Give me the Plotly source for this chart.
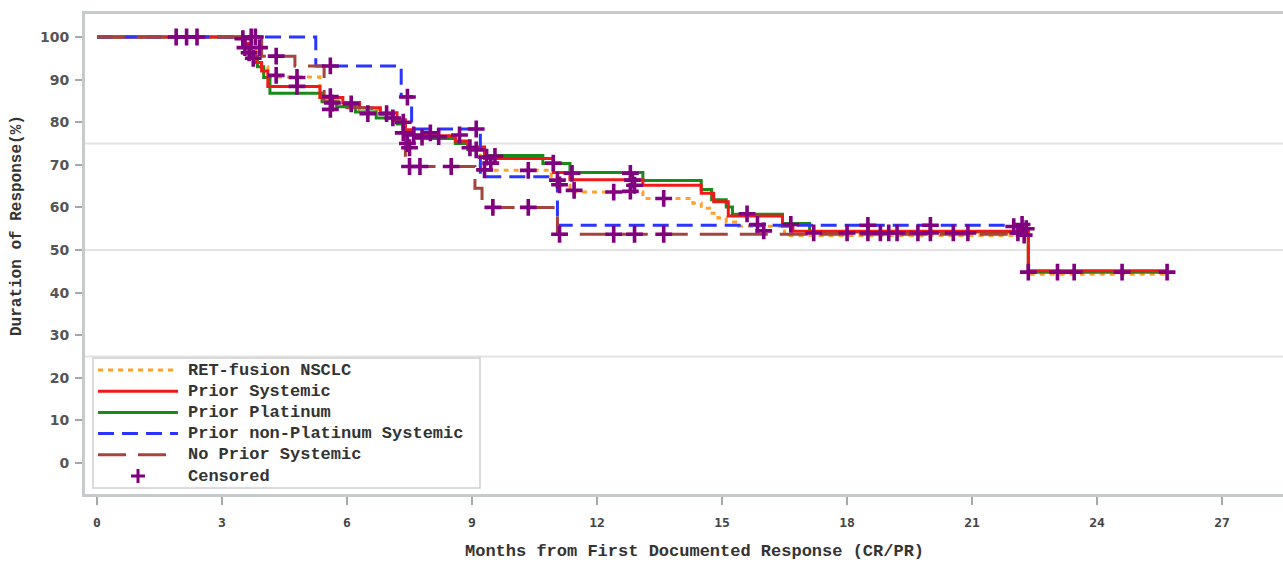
import plotly.graph_objects as go

# ---------------- data ----------------
ret_t = [0, 3.5, 3.65, 3.8, 3.95, 4.1, 5.35, 5.9, 6.3, 6.8, 7.2, 7.4, 7.6, 8.6, 8.9, 9.2,
         10.9, 11.1, 11.35, 13.1, 14.3, 14.5, 14.7, 14.9, 15.1, 15.4, 16.5, 22.35, 25.68]
ret_s = [100, 98.7, 97, 95, 93, 90.6, 85.3, 84.2, 83.0, 81.8, 80.3, 78.0, 76.5, 75.3, 73.8, 68.7,
         66.8, 65.2, 63.6, 62.1, 61.0, 59.8, 58.6, 57.5, 56.6, 55.6, 53.4, 44.3, 44.3]

sys_t = [0, 3.5, 3.65, 3.8, 3.95, 4.1, 5.35, 5.9, 6.3, 6.8, 7.2, 7.4, 7.6, 8.6, 8.9, 9.3,
         10.95, 11.35, 13.1, 14.5, 14.8, 15.15, 16.45, 16.7, 22.35, 25.68]
sys_s = [100, 98.5, 96.5, 94, 92, 88.4, 85.8, 84.6, 83.4, 82.2, 80.6, 78.2, 76.8, 75.6, 74.2, 71.5,
         68.2, 66.5, 65.2, 63.3, 61.3, 58.0, 55.6, 54.4, 45.1, 45.1]

plat_t = [0, 3.55, 3.7, 3.85, 4.0, 4.15, 5.4, 5.75, 6.2, 6.7, 7.2, 7.4, 7.6, 8.6, 8.9, 9.3,
          10.7, 11.35, 13.1, 14.5, 14.75, 15.1, 15.25, 16.45, 17.1, 22.35, 25.68]
plat_s = [100, 98, 95.5, 93, 90.5, 86.8, 84.8, 83.6, 82.4, 81.0, 79.6, 77.6, 76.2, 75.0, 73.6, 72.2,
          70.3, 68.2, 66.3, 64.2, 61.8, 60.1, 58.4, 56.2, 54.2, 44.8, 44.8]

nonplat_t = [0, 5.25, 7.3, 7.55, 9.2, 11.05, 22.25]
nonplat_s = [100, 93.2, 86.0, 78.4, 67.2, 55.8, 55.8]

noprior_t = [0, 3.95, 4.75, 5.45, 6.0, 6.6, 7.1, 7.4, 9.07, 9.24, 11.05, 22.3]
noprior_s = [100, 95.5, 93.2, 84.8, 83.4, 82.0, 80.4, 69.6, 64.5, 60.0, 53.7, 53.7]

cens_t = [1.9, 2.15, 2.4,
          3.5, 3.7, 3.8, 3.55, 3.65, 3.75, 3.9, 4.3, 4.3, 4.8, 4.8,
          5.6, 5.6, 5.65, 5.6, 6.1, 6.5, 6.95, 7.1, 7.35, 7.45,
          7.35, 7.45, 7.5, 7.6, 7.8, 8.0, 8.2, 8.7, 9.1, 8.95, 9.1, 9.35, 9.45, 9.55, 9.3,
          10.35, 10.95, 11.05, 11.1, 11.4, 11.45,
          7.5, 7.75, 8.5, 9.5, 10.35, 11.1, 12.4, 12.9, 13.6,
          12.4, 12.8, 12.85, 12.8, 12.9, 13.6,
          15.6, 15.85, 16.0, 16.65, 17.2, 18.0, 18.5, 18.5, 18.8, 19.0, 19.2, 19.7, 20.0, 20.0,
          20.55, 20.9, 22.0, 22.1, 22.2, 22.25, 22.3,
          22.35, 23.05, 23.45, 24.6, 25.68]
cens_s = [100, 100, 100,
          99.6, 100, 100, 97.5, 96.3, 95, 97.5, 95.5, 91, 90.5, 88.4,
          93.2, 86, 84.5, 83, 84.3, 82, 82, 81, 80, 85.9,
          77.5, 75, 74, 77, 76.5, 77.5, 76.6, 77, 78.4, 74, 73.5, 71.8, 70.4, 72, 68.8,
          68.7, 70.4, 66.4, 65.3, 68, 64,
          69.6, 69.6, 69.6, 60, 60, 53.7, 53.7, 53.7, 53.7,
          63.6, 68, 66.4, 63.8, 65.2, 62.1,
          58.5, 56, 54.5, 56, 54, 54, 55.8, 54, 54, 54, 54, 54, 55.8, 54,
          54, 54, 55.5, 54, 56, 53.5, 55,
          44.8, 44.8, 44.8, 44.8, 44.8]

ref_lines = [25, 50, 75]
x_ticks = [0, 3, 6, 9, 12, 15, 18, 21, 24, 27]
y_ticks = [0, 10, 20, 30, 40, 50, 60, 70, 80, 90, 100]

labels = ["RET-fusion NSCLC", "Prior Systemic", "Prior Platinum",
          "Prior non-Platinum Systemic", "No Prior Systemic", "Censored"]

# ---------------- styles ----------------
C_ORANGE = "#FFA12B"
C_RED = "#F01818"
C_GREEN = "#1A8A1A"
C_BLUE = "#2A36FF"
C_BROWN = "#A4443E"
C_PURPLE = "#800080"
D_ORANGE = "5px,5px"
D_BLUE = "16px,8px"
D_BROWN = "28px,12px"

W, H = 1283, 562
ML, MT, MB, MR = 85, 14, 68, 0
PW, PH = W - ML - MR, H - MT - MB


def pxx(px):
    return (px - ML) / PW


def pxy(py):
    return (H - MB - py) / PH


fig = go.Figure()

series = [
    (ret_t, ret_s, C_ORANGE, D_ORANGE),
    (plat_t, plat_s, C_GREEN, "solid"),
    (sys_t, sys_s, C_RED, "solid"),
    (nonplat_t, nonplat_s, C_BLUE, D_BLUE),
    (noprior_t, noprior_s, C_BROWN, D_BROWN),
]
for t, s, col, dash in series:
    fig.add_trace(go.Scatter(x=t, y=s, mode="lines",
                             line=dict(shape="hv", color=col, width=3, dash=dash),
                             showlegend=False, hoverinfo="skip"))

fig.add_trace(go.Scatter(x=cens_t, y=cens_s, mode="markers",
                         marker=dict(symbol="cross-thin", size=12,
                                     line=dict(width=3.6, color=C_PURPLE)),
                         showlegend=False, hoverinfo="skip"))

shapes = []
for v in ref_lines:
    shapes.append(dict(type="line", xref="paper", yref="y", x0=0, x1=1, y0=v, y1=v,
                       line=dict(color="#e3e3e3", width=2), layer="below"))

# legend box (drawn manually to match SAS look)
shapes.append(dict(type="rect", xref="paper", yref="paper",
                   x0=pxx(93), x1=pxx(480), y0=pxy(488), y1=pxy(358),
                   line=dict(color="#cfcfcf", width=1.5), fillcolor="white", layer="above"))
leg_styles = [(C_ORANGE, D_ORANGE), (C_RED, "solid"), (C_GREEN, "solid"),
              (C_BLUE, D_BLUE), (C_BROWN, D_BROWN)]
row_y = [370 + 21.2 * i for i in range(6)]
annotations = []
for i, (col, dash) in enumerate(leg_styles):
    shapes.append(dict(type="line", xref="paper", yref="paper",
                       x0=pxx(98), x1=pxx(178), y0=pxy(row_y[i]), y1=pxy(row_y[i]),
                       line=dict(color=col, width=3, dash=dash), layer="above"))
# censored plus in legend
cx, cy = 138, row_y[5]
shapes.append(dict(type="line", xref="paper", yref="paper", x0=pxx(cx - 7), x1=pxx(cx + 7),
                   y0=pxy(cy), y1=pxy(cy), line=dict(color=C_PURPLE, width=3), layer="above"))
shapes.append(dict(type="line", xref="paper", yref="paper", x0=pxx(cx), x1=pxx(cx),
                   y0=pxy(cy - 7), y1=pxy(cy + 7), line=dict(color=C_PURPLE, width=3), layer="above"))

mono = "Liberation Mono, Courier New, monospace"
for i, lab in enumerate(labels):
    annotations.append(dict(text=lab, xref="paper", yref="paper", x=pxx(186), y=pxy(row_y[i]),
                            xanchor="left", yanchor="middle", showarrow=False,
                            font=dict(family=mono, size=17, color="#333333", weight="bold")))

annotations.append(dict(text="Months from First Documented Response (CR/PR)",
                        xref="paper", yref="paper", x=pxx(694), y=pxy(551),
                        xanchor="center", yanchor="middle", showarrow=False,
                        font=dict(family=mono, size=17, color="#333333", weight="bold")))
annotations.append(dict(text="Duration of Response(%)", textangle=-90,
                        xref="paper", yref="paper", x=pxx(17), y=pxy(226),
                        xanchor="center", yanchor="middle", showarrow=False,
                        font=dict(family=mono, size=16, color="#333333", weight="bold")))

fig.update_layout(
    width=W, height=H,
    margin=dict(l=ML, r=MR, t=MT, b=MB),
    paper_bgcolor="white", plot_bgcolor="white",
    shapes=shapes, annotations=annotations,
    xaxis=dict(range=[(ML - 97) / 41.67, (W - 97) / 41.67], tickvals=x_ticks,
               ticks="outside", ticklen=8, tickwidth=1.5, tickcolor="#a8a8a8",
               showgrid=False, zeroline=False,
               showline=True, mirror=True, linecolor="#c6caca", linewidth=3,
               ticklabelstandoff=6,
               tickfont=dict(family="DejaVu Sans Mono, monospace", size=13,
                             color="#444444", weight="bold")),
    yaxis=dict(range=[(463 - (H - MB)) / 4.26, (463 - MT) / 4.26], tickvals=y_ticks,
               ticks="outside", ticklen=7, tickwidth=1.5, tickcolor="#a8a8a8",
               showgrid=False, zeroline=False,
               showline=True, linecolor="#c6caca", linewidth=3,
               ticklabelstandoff=3,
               tickfont=dict(family="DejaVu Sans, sans-serif", size=14,
                             color="#555555", weight="bold")),
)

fig.write_html("out.html", config={"displayModeBar": False},
               post_script="document.body.style.margin='0';document.body.style.overflow='hidden';")
